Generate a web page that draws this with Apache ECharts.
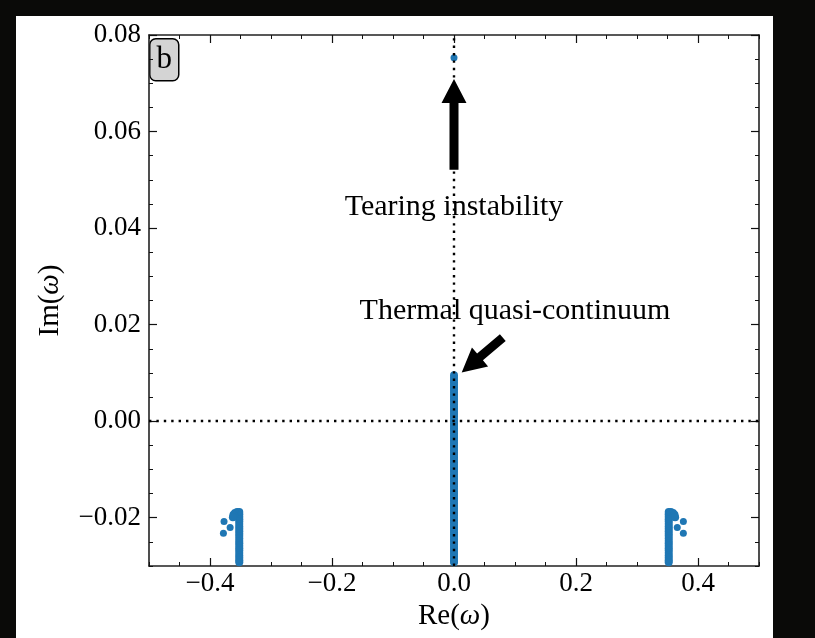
<!DOCTYPE html>
<html>
<head>
<meta charset="utf-8">
<script src="https://cdn.jsdelivr.net/npm/echarts@6/dist/echarts.min.js"></script>
<style>
  html, body { margin: 0; padding: 0; background: #0a0a08; }
  #chart { width: 815px; height: 638px; }
</style>
</head>
<body>
<div id="chart"></div>
<script>
// ---------------- data ----------------
// Thermal quasi-continuum on the imaginary axis (Re = 0)
const thermalRe = 0;
const thermalIm = [
  0.0095, 0.0090, 0.0085, 0.0080, 0.0075, 0.0070, 0.0065, 0.0060, 0.0055, 0.0050,
  0.0045, 0.0040, 0.0035, 0.0030, 0.0025, 0.0020, 0.0015, 0.0010, 0.0005, 0.0000,
  -0.0005, -0.0010, -0.0015, -0.0020, -0.0025, -0.0030, -0.0035, -0.0040, -0.0045, -0.0050,
  -0.0055, -0.0060, -0.0065, -0.0070, -0.0075, -0.0080, -0.0085, -0.0090, -0.0095, -0.0100,
  -0.0105, -0.0110, -0.0115, -0.0120, -0.0125, -0.0130, -0.0135, -0.0140, -0.0145, -0.0150,
  -0.0155, -0.0160, -0.0165, -0.0170, -0.0175, -0.0180, -0.0185, -0.0190, -0.0195, -0.0200,
  -0.0205, -0.0210, -0.0215, -0.0220, -0.0225, -0.0230, -0.0235, -0.0240, -0.0245, -0.0250,
  -0.0255, -0.0260, -0.0265, -0.0270, -0.0275, -0.0280, -0.0285, -0.0290, -0.0292
];
// Slow-magnetosonic branches (left and right)
const leftBranchRe = -0.352;
const rightBranchRe = 0.352;
const branchIm = [
  -0.0188, -0.0193, -0.0198, -0.0203, -0.0208, -0.0213, -0.0218, -0.0223, -0.0228, -0.0233,
  -0.0238, -0.0243, -0.0248, -0.0253, -0.0258, -0.0263, -0.0268, -0.0273, -0.0278, -0.0283,
  -0.0288, -0.0292
];
const leftHook  = [[-0.3555, -0.0188], [-0.359, -0.0190], [-0.3615, -0.0194], [-0.3625, -0.0199]];
const rightHook = [[0.3555, -0.0188], [0.359, -0.0190], [0.3615, -0.0194], [0.3625, -0.0199]];
const leftDots  = [[-0.377, -0.0208], [-0.367, -0.0220], [-0.378, -0.0232]];
const rightDots = [[0.376, -0.0208], [0.366, -0.0220], [0.376, -0.0232]];
const tearingMode = [[0, 0.0753]];

// tick values
const xMajorTicks = [-0.4, -0.2, 0, 0.2, 0.4];
const yMajorTicks = [-0.02, 0, 0.02, 0.04, 0.06, 0.08];

// annotations: arrows [x0, y0, x1(tip), y1(tip)] and texts
const arrows = [[0, 0.0521, 0, 0.0709], [0.080, 0.0173, 0.0126, 0.0101]];
const annotationText = ['Tearing instability', 'Thermal quasi-continuum'];
const annotationPos = [[0, 0.0444], [0.100, 0.0228]];

// ---------------- chart ----------------
const FONT = '"Liberation Serif", "Times New Roman", serif';
const BLUE = '#1f77b4';
const chart = echarts.init(document.getElementById('chart'), null, { renderer: 'canvas' });

const fmtX = v => (v < -1e-9 ? '\u2212' : '') + Math.abs(v).toFixed(1);
const fmtY = v => (v < -1e-9 ? '\u2212' : '') + Math.abs(v).toFixed(2);

function minorAxis(pos, isX, withLabels) {
  const a = {
    type: 'value', position: pos,
    min: isX ? -0.5 : -0.03, max: isX ? 0.5 : 0.08, interval: isX ? 0.05 : 0.005,
    axisLine: { show: true, onZero: false, lineStyle: { color: '#222', width: 1.6 } },
    axisTick: { show: true, inside: true, length: 4, lineStyle: { color: '#111', width: 1 } },
    axisLabel: { show: false },
    splitLine: { show: false }
  };
  if (withLabels) {
    a.axisLabel = {
      show: true, customValues: isX ? xMajorTicks : yMajorTicks,
      formatter: isX ? fmtX : fmtY, color: '#000', fontFamily: FONT, fontSize: 27,
      margin: isX ? 4 : 8
    };
  }
  return a;
}
function majorAxis(pos, isX) {
  return {
    type: 'value', position: pos,
    min: isX ? -0.5 : -0.03, max: isX ? 0.5 : 0.08,
    axisLine: { show: false, onZero: false },
    axisTick: { show: true, inside: true, length: 8, customValues: isX ? xMajorTicks : yMajorTicks,
                lineStyle: { color: '#111', width: 1.2 } },
    axisLabel: { show: false },
    splitLine: { show: false }
  };
}

const richName = {
  n: { fontFamily: FONT, fontSize: 29, color: '#000' },
  w: { fontFamily: FONT, fontSize: 29, color: '#000', fontStyle: 'italic' }
};

const xAxes = [minorAxis('bottom', true, true), majorAxis('bottom', true), minorAxis('top', true, false), majorAxis('top', true)];
xAxes[0].name = '{n|Re(}{w|\u03c9}{n|)}';
xAxes[0].nameLocation = 'middle';
xAxes[0].nameGap = 31;
xAxes[0].nameTextStyle = { fontFamily: FONT, fontSize: 29, color: '#000', rich: richName };

const yAxes = [minorAxis('left', false, true), majorAxis('left', false), minorAxis('right', false, false), majorAxis('right', false)];
yAxes[0].name = '{n|Im(}{w|\u03c9}{n|)}';
yAxes[0].nameLocation = 'middle';
yAxes[0].nameGap = 84;
yAxes[0].nameTextStyle = { fontFamily: FONT, fontSize: 29, color: '#000', rich: richName };

const pointStyle = { color: BLUE, opacity: 1 };

const option = {
  backgroundColor: '#0a0a08',
  animation: false,
  textStyle: { fontFamily: FONT },
  grid: { left: 149, right: 56, top: 35, bottom: 72, containLabel: false },
  xAxis: xAxes,
  yAxis: yAxes,
  graphic: [
    { type: 'rect', z: -100, silent: true, shape: { x: 16, y: 16, width: 757, height: 622 }, style: { fill: '#ffffff' } },
    { type: 'group', left: 149, top: 38, z: 100, children: [
      { type: 'rect', shape: { x: 0, y: 0, width: 29, height: 42, r: 6 }, style: { fill: '#d4d4d4', stroke: '#000', lineWidth: 1.5 } },
      { type: 'text', x: 14.5, y: 21, style: { text: 'b', font: '31px "Liberation Serif"', fill: '#000', align: 'center', verticalAlign: 'middle' } }
    ] }
  ],
  series: [
    {
      type: 'scatter', name: 'thermal', symbolSize: 8, itemStyle: pointStyle, z: 2,
      data: thermalIm.map(v => [thermalRe, v]),
      markLine: {
        silent: true, symbol: 'none', label: { show: false }, z: 5,
        lineStyle: { color: '#000', width: 2.4, type: [2.4, 5] },
        data: [{ xAxis: 0 }, { yAxis: 0 }]
      }
    },
    {
      type: 'scatter', name: 'slow left', symbolSize: 8, itemStyle: pointStyle, z: 2,
      data: branchIm.map(v => [leftBranchRe, v]).concat(leftHook)
    },
    {
      type: 'scatter', name: 'slow right', symbolSize: 8, itemStyle: pointStyle, z: 2,
      data: branchIm.map(v => [rightBranchRe, v]).concat(rightHook)
    },
    {
      type: 'scatter', name: 'discrete', symbolSize: 7, itemStyle: pointStyle, z: 2,
      data: leftDots.concat(rightDots).concat(tearingMode)
    },
    {
      type: 'custom', name: 'arrows', z: 10, silent: true,
      encode: { x: [0, 2], y: [1, 3] },
      data: arrows,
      renderItem: function (params, api) {
        const p0 = api.coord([api.value(0), api.value(1)]);
        const p1 = api.coord([api.value(2), api.value(3)]);
        const dx = p1[0] - p0[0], dy = p1[1] - p0[1];
        const len = Math.hypot(dx, dy);
        const ux = dx / len, uy = dy / len, nx = -uy, ny = ux;
        const w = 4.5, h = 12.5, L = 24;
        const bx = p1[0] - ux * L, by = p1[1] - uy * L;
        return {
          type: 'polygon',
          shape: { points: [
            [p0[0] + nx * w, p0[1] + ny * w],
            [bx + nx * w, by + ny * w],
            [bx + nx * h, by + ny * h],
            [p1[0], p1[1]],
            [bx - nx * h, by - ny * h],
            [bx - nx * w, by - ny * w],
            [p0[0] - nx * w, p0[1] - ny * w]
          ] },
          style: { fill: '#000' }
        };
      }
    },
    {
      type: 'custom', name: 'labels', z: 11, silent: true,
      data: annotationPos,
      renderItem: function (params, api) {
        const p = api.coord([api.value(0), api.value(1)]);
        return {
          type: 'text', x: p[0], y: p[1],
          style: { text: annotationText[params.dataIndex], font: '30px "Liberation Serif"', fill: '#000',
                   align: 'center', verticalAlign: 'middle' }
        };
      }
    }
  ]
};
chart.setOption(option);
</script>
</body>
</html>
